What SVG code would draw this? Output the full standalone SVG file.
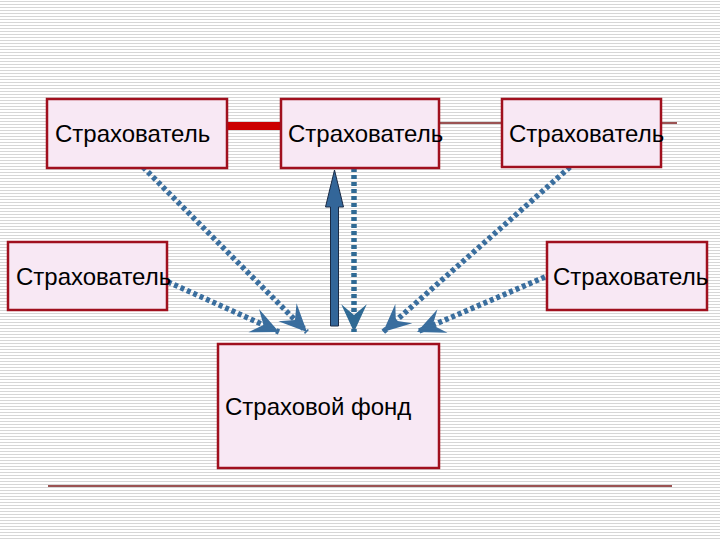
<svg xmlns="http://www.w3.org/2000/svg" width="720" height="540" viewBox="0 0 720 540">
  <defs>
    <pattern id="stripes" x="0" y="0" width="720" height="3" patternUnits="userSpaceOnUse">
      <rect x="0" y="0" width="720" height="3" fill="#ffffff"/>
      <rect x="0" y="1" width="720" height="1" fill="#d6d6d6"/>
    </pattern>
    <marker id="stealth" markerUnits="userSpaceOnUse" markerWidth="32" markerHeight="32" viewBox="-28 -14 30 28" refX="0" refY="0" orient="auto">
      <path d="M0,0 L-26,-12 L-16,0 L-26,12 Z" fill="#3a6e9e"/>
    </marker>
    <marker id="stealthTeal" markerUnits="userSpaceOnUse" markerWidth="32" markerHeight="32" viewBox="-28 -14 30 28" refX="0" refY="0" orient="auto">
      <path d="M0,0 L-26,-12 L-16,0 L-26,12 Z" fill="#2f6a94"/>
    </marker>
  </defs>
  <style>
    .box { fill: #f8e8f4; stroke: #a0101e; stroke-width: 2.5; }
    .lbl { font-family: "Liberation Sans", Arial, sans-serif; font-size: 24px; fill: #000000; }
    .dot { fill: none; stroke: #3a6e9e; stroke-width: 5.5; stroke-dasharray: 4 3; marker-end: url(#stealth); }
    .dotTeal { fill: none; stroke: #2f6a94; stroke-width: 5.5; stroke-dasharray: 4 3; marker-end: url(#stealthTeal); }
    .thin { stroke: #7a1a1a; stroke-width: 1.3; fill: none; }
  </style>
  <rect x="0" y="0" width="720" height="540" fill="url(#stripes)"/>

  <g id="connectors">
    <line class="thin" x1="439" y1="123" x2="677" y2="123"/>
    <line x1="227" y1="126" x2="281" y2="126" stroke="#cc0000" stroke-width="8"/>
    <path class="dot" d="M143,167 L307,332"/>
    <path class="dot" d="M155,276 L279,332"/>
    <path class="dotTeal" d="M354,168 L354,332"/>
    <path class="dot" d="M570,167 L383,332"/>
    <path class="dot" d="M545,277 L417,332"/>
    <path d="M330.5,326 L330.5,207 L325.5,207 L334.5,170 L343.5,207 L338.5,207 L338.5,326 Z" fill="#336699" stroke="#1a2a44" stroke-width="1"/>
  </g>

  <g id="node1">
    <rect class="box" x="47" y="99" width="180" height="69"/>
    <text class="lbl" x="55" y="142">Страхователь</text>
  </g>
  <g id="node2">
    <rect class="box" x="281" y="99" width="158" height="69"/>
    <text class="lbl" x="288" y="142">Страхователь</text>
  </g>
  <g id="node3">
    <rect class="box" x="502" y="99" width="159" height="68"/>
    <text class="lbl" x="509" y="142">Страхователь</text>
  </g>
  <g id="node4">
    <rect class="box" x="8" y="242" width="159" height="68"/>
    <text class="lbl" x="16" y="285">Страхователь</text>
  </g>
  <g id="node5">
    <rect class="box" x="547" y="242" width="160" height="68"/>
    <text class="lbl" x="553" y="285">Страхователь</text>
  </g>
  <g id="node6">
    <rect class="box" x="218" y="344" width="221" height="124"/>
    <text class="lbl" x="225" y="415">Страховой фонд</text>
  </g>

  <line class="thin" x1="48" y1="486" x2="672" y2="486"/>
</svg>
